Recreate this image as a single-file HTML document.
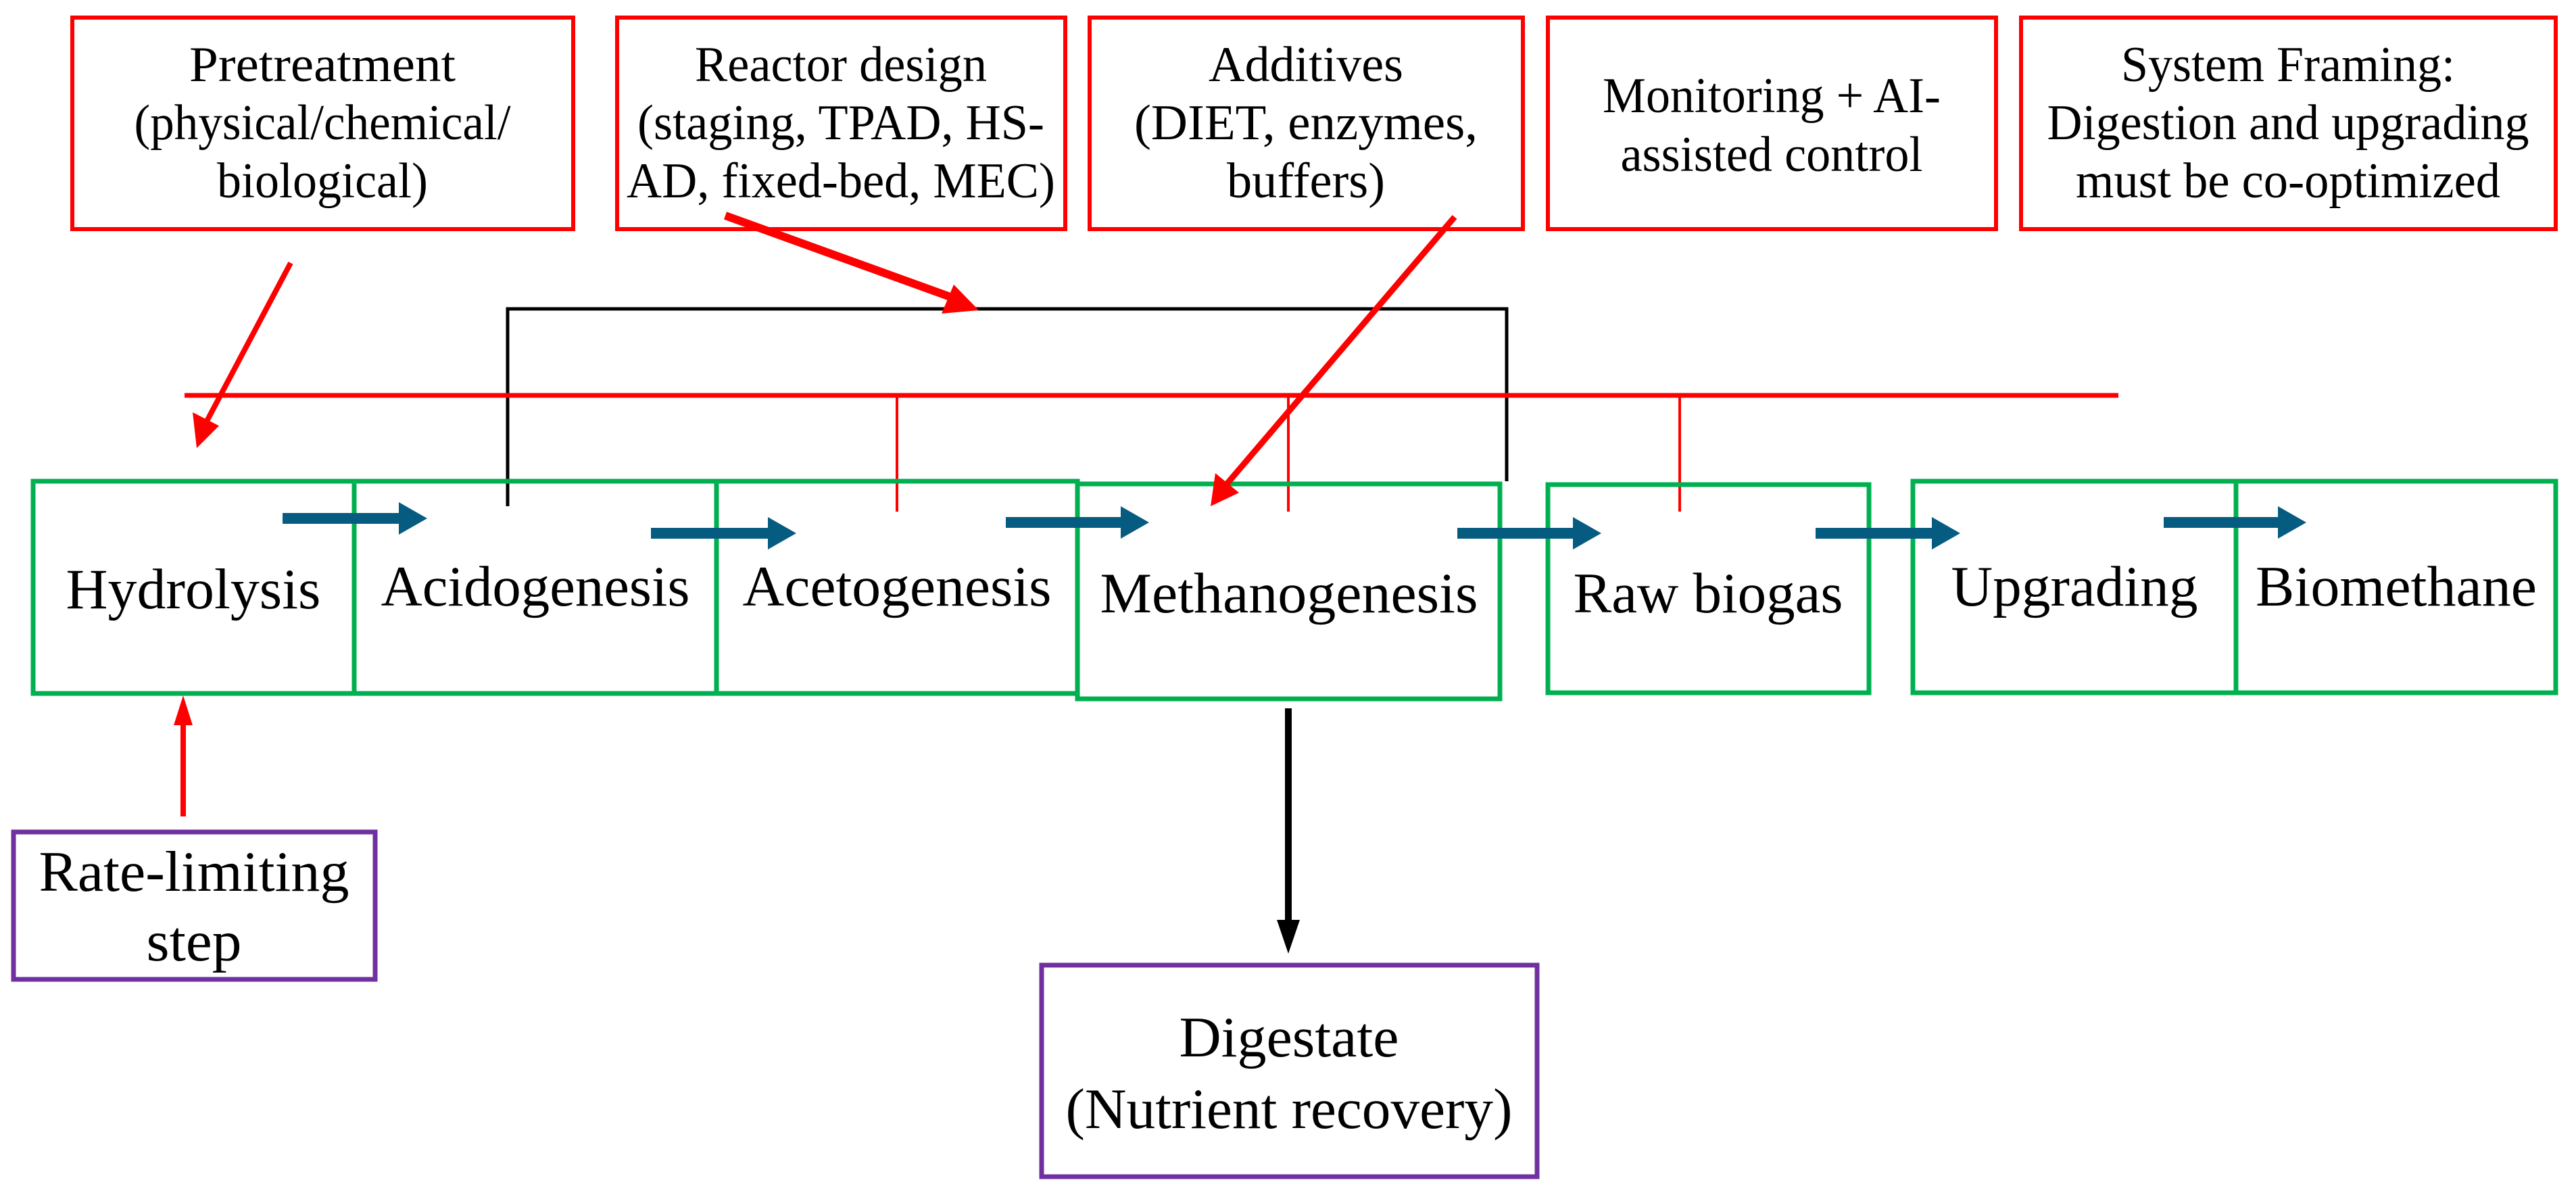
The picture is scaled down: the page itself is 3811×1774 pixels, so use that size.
<!DOCTYPE html>
<html><head><meta charset="utf-8"><style>html,body{margin:0;padding:0;background:#fff}svg{display:block}svg text{font-family:"Liberation Serif","Noto Serif CJK SC","DejaVu Serif",serif}</style></head><body>
<svg width="3811" height="1774" viewBox="0 0 3811 1774" xmlns="http://www.w3.org/2000/svg" fill="#000">
<rect width="3811" height="1774" fill="#fff"/>
<g fill="none" stroke="#ff0000" stroke-width="6">
<rect x="107" y="26" width="741" height="313"/>
<rect x="913" y="26" width="663" height="313"/>
<rect x="1612" y="26" width="641" height="313"/>
<rect x="2290" y="26" width="663" height="313"/>
<rect x="2990" y="26" width="791" height="313"/>
</g>
<g font-size="74" text-anchor="middle" lengthAdjust="spacingAndGlyphs">
<text x="477" y="120" textLength="394" lengthAdjust="spacingAndGlyphs">Pretreatment</text>
<text x="477" y="206" textLength="557" lengthAdjust="spacingAndGlyphs">(physical/chemical/</text>
<text x="477" y="292" textLength="312" lengthAdjust="spacingAndGlyphs">biological)</text>
<text x="1244" y="120" textLength="432" lengthAdjust="spacingAndGlyphs">Reactor design</text>
<text x="1244" y="206" textLength="602" lengthAdjust="spacingAndGlyphs">(staging, TPAD, HS-</text>
<text x="1244" y="292" textLength="634" lengthAdjust="spacingAndGlyphs">AD, fixed-bed, MEC)</text>
<text x="1932" y="120" textLength="288" lengthAdjust="spacingAndGlyphs">Additives</text>
<text x="1932" y="206" textLength="508" lengthAdjust="spacingAndGlyphs">(DIET, enzymes,</text>
<text x="1932" y="292" textLength="234" lengthAdjust="spacingAndGlyphs">buffers)</text>
<text x="2621" y="166" textLength="500" lengthAdjust="spacingAndGlyphs">Monitoring + AI-</text>
<text x="2621" y="253" textLength="447" lengthAdjust="spacingAndGlyphs">assisted control</text>
<text x="3385" y="120" textLength="494" lengthAdjust="spacingAndGlyphs">System Framing:</text>
<text x="3385" y="206" textLength="713" lengthAdjust="spacingAndGlyphs">Digestion and upgrading</text>
<text x="3385" y="292" textLength="628" lengthAdjust="spacingAndGlyphs">must be co-optimized</text>
</g>
<polyline points="751,749 751,457 2229,457 2229,712" fill="none" stroke="#000" stroke-width="5"/>
<line x1="273" y1="585" x2="3134" y2="585" stroke="#ff0000" stroke-width="7"/>
<g stroke="#ff0000" stroke-width="4">
<line x1="1327" y1="585" x2="1327" y2="757"/>
<line x1="1906" y1="585" x2="1906" y2="757"/>
<line x1="2485" y1="585" x2="2485" y2="757"/>
</g>
<g fill="none" stroke="#00b050" stroke-width="7">
<rect x="49" y="712" width="475" height="314"/>
<rect x="524" y="712" width="536" height="314"/>
<rect x="1060" y="712" width="534" height="314"/>
<rect x="1594" y="716" width="625" height="318"/>
<rect x="2290" y="717" width="475" height="308"/>
<rect x="2830" y="712" width="478" height="313"/>
<rect x="3308" y="712" width="473" height="313"/>
</g>
<g font-size="85" text-anchor="middle">
<text x="286" y="900" textLength="377" lengthAdjust="spacingAndGlyphs">Hydrolysis</text>
<text x="792" y="896" textLength="457" lengthAdjust="spacingAndGlyphs">Acidogenesis</text>
<text x="1327" y="896" textLength="457" lengthAdjust="spacingAndGlyphs">Acetogenesis</text>
<text x="1907" y="906" textLength="559" lengthAdjust="spacingAndGlyphs">Methanogenesis</text>
<text x="2527" y="906" textLength="399" lengthAdjust="spacingAndGlyphs">Raw biogas</text>
<text x="3069" y="896" textLength="365" lengthAdjust="spacingAndGlyphs">Upgrading</text>
<text x="3545" y="896" textLength="416" lengthAdjust="spacingAndGlyphs">Biomethane</text>
</g>
<g fill="#065c80">
<polygon points="418,759 590,759 590,743 632,767 590,791 590,775 418,775"/>
<polygon points="963,781 1136,781 1136,765 1178,789 1136,813 1136,797 963,797"/>
<polygon points="1488,765 1658,765 1658,749 1700,773 1658,797 1658,781 1488,781"/>
<polygon points="2156,781 2327,781 2327,765 2369,789 2327,813 2327,797 2156,797"/>
<polygon points="2686,781 2858,781 2858,765 2900,789 2858,813 2858,797 2686,797"/>
<polygon points="3201,765 3370,765 3370,749 3412,773 3370,797 3370,781 3201,781"/>
</g>
<g stroke="#ff0000" fill="#ff0000">
<line x1="430" y1="389" x2="306" y2="623" stroke-width="8"/>
<polygon points="291,663 285,610 324,630" stroke="none"/>
<line x1="1073" y1="319" x2="1408" y2="440" stroke-width="12"/>
<polygon points="1448,459 1393,464 1411,421" stroke="none"/>
<line x1="2152" y1="321" x2="1815" y2="716" stroke-width="9"/>
<polygon points="1791,749 1798,700 1833,729" stroke="none"/>
<line x1="271" y1="1208" x2="271" y2="1065" stroke-width="8"/>
<polygon points="271,1029 285,1073 257,1073" stroke="none"/>
</g>
<line x1="1906" y1="1048" x2="1906" y2="1370" stroke="#000" stroke-width="10"/>
<polygon points="1906,1411 1889,1361 1923,1361" fill="#000"/>
<g fill="none" stroke="#7030a0" stroke-width="7">
<rect x="20" y="1231" width="535" height="218"/>
<rect x="1541" y="1428" width="733" height="313"/>
</g>
<g font-size="85" text-anchor="middle">
<text x="287" y="1318" textLength="459" lengthAdjust="spacingAndGlyphs">Rate-limiting</text>
<text x="287" y="1421" textLength="141" lengthAdjust="spacingAndGlyphs">step</text>
<text x="1907" y="1563" textLength="325" lengthAdjust="spacingAndGlyphs">Digestate</text>
<text x="1907" y="1669" textLength="661" lengthAdjust="spacingAndGlyphs">(Nutrient recovery)</text>
</g>
</svg>
</body></html>
